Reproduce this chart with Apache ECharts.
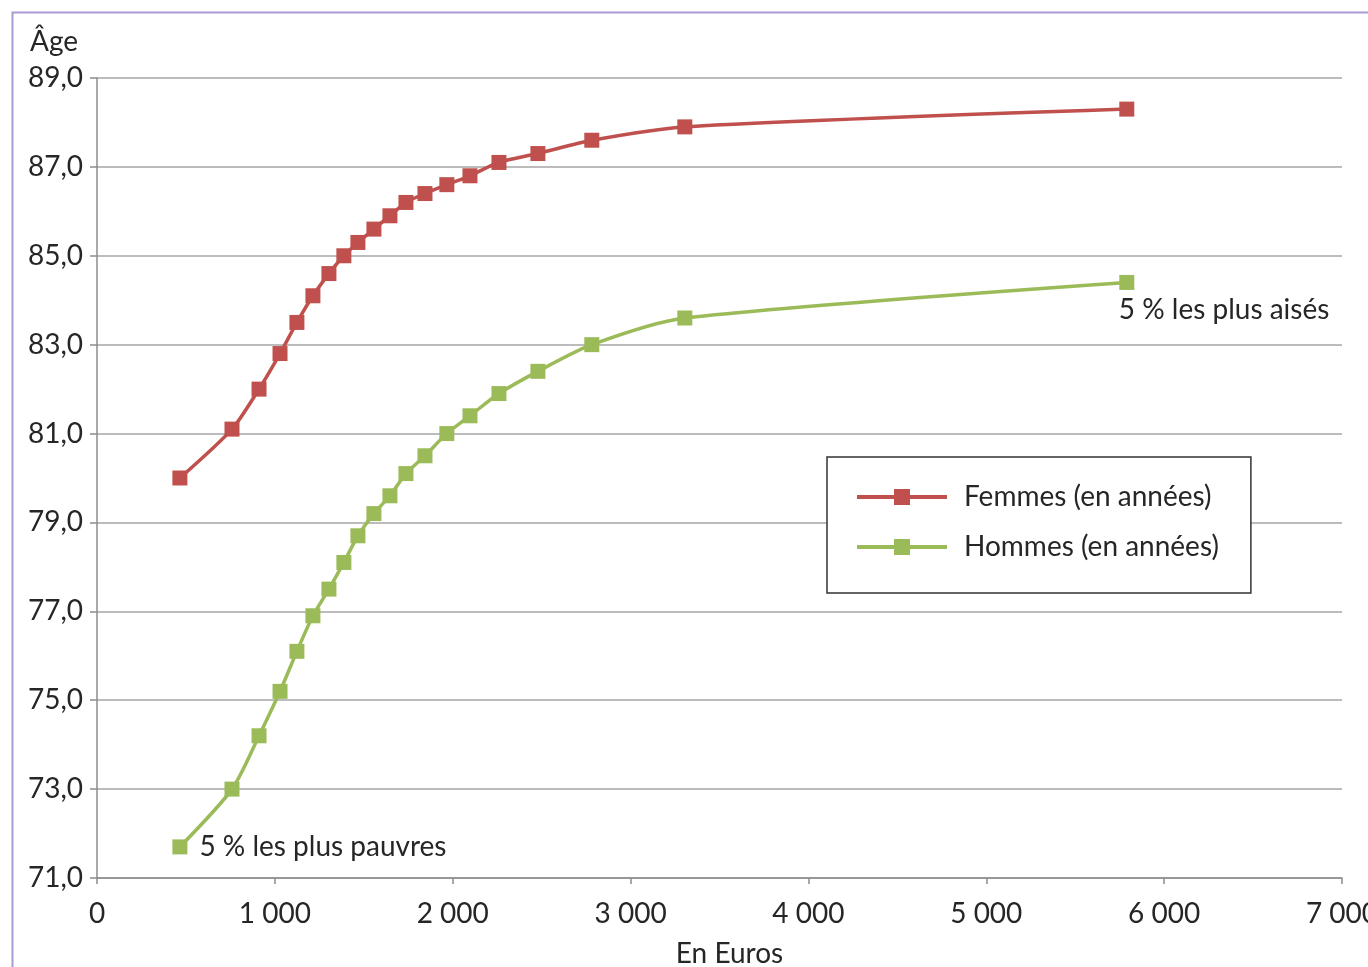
<!DOCTYPE html>
<html>
<head>
<meta charset="utf-8">
<script src="https://cdn.jsdelivr.net/npm/echarts@6/dist/echarts.min.js"></script>
<style>
html,body{margin:0;padding:0;background:#fff;}
#chart{width:1368px;height:967px;}
</style>
</head>
<body>
<div id="chart"></div>
<script>
// Revenu mensuel (euros) par ventile
const revenus = [466, 759, 911, 1029, 1124, 1214, 1304, 1388, 1467, 1557, 1647, 1737, 1844, 1967, 2097, 2260, 2479, 2782, 3305, 5790];
const femmes  = [80.0, 81.1, 82.0, 82.8, 83.5, 84.1, 84.6, 85.0, 85.3, 85.6, 85.9, 86.2, 86.4, 86.6, 86.8, 87.1, 87.3, 87.6, 87.9, 88.3];
const hommes  = [71.7, 73.0, 74.2, 75.2, 76.1, 76.9, 77.5, 78.1, 78.7, 79.2, 79.6, 80.1, 80.5, 81.0, 81.4, 81.9, 82.4, 83.0, 83.6, 84.4];
const seriesNames = ['Femmes (en années)', 'Hommes (en années)'];
const noteBas = '5 % les plus pauvres';
const noteHaut = '5 % les plus aisés';
const axisNames = { x: 'En Euros', y: 'Âge' };

const FONT = 'Lato';
const FS = 28;
const TXT = '#262626';

const fmtThousands = v => String(v).replace(/\B(?=(\d{3})+(?!\d))/g, ' ');
const fmtAge = v => v.toFixed(1).replace('.', ',');

const femmesData = revenus.map((x, i) => [x, femmes[i]]);
const hommesData = revenus.map((x, i) => {
  const item = { value: [x, hommes[i]] };
  if (i === 0) {
    item.label = { show: true, formatter: noteBas, position: 'right', distance: 12,
      fontFamily: FONT, fontSize: FS, color: TXT };
  } else if (i === revenus.length - 1) {
    item.label = { show: true, formatter: noteHaut, position: 'bottom', align: 'left', distance: 6,
      offset: [-8, 0], fontFamily: FONT, fontSize: FS, color: TXT };
  }
  return item;
});

const chart = echarts.init(document.getElementById('chart'), null, { renderer: 'canvas' });
chart.setOption({
  animation: false,
  backgroundColor: '#fff',
  textStyle: { fontFamily: FONT },
  grid: { left: 97, right: 26, top: 78, bottom: 89, containLabel: false, outerBoundsMode: 'none' },
  graphic: [{
    type: 'rect', left: 10, top: 10, silent: true,
    shape: { x: 0, y: 0, width: 1400, height: 1000 },
    style: { fill: 'none', stroke: '#a99ad2', lineWidth: 2 }
  }],
  legend: {
    orient: 'vertical', left: 827, top: 457,
    padding: [24, 32, 30, 28], itemGap: 18,
    itemWidth: 90, itemHeight: 20,
    backgroundColor: '#fff', borderColor: '#333', borderWidth: 1.5, borderRadius: 0,
    lineStyle: { width: 4 },
    textStyle: { fontFamily: FONT, fontSize: FS, color: TXT, lineHeight: 32, padding: [0, 0, 0, 12] },
    data: seriesNames
  },
  xAxis: {
    type: 'value', min: 0, max: 7000, interval: 1000,
    name: axisNames.x, nameLocation: 'middle', nameGap: 62,
    nameTextStyle: { fontFamily: FONT, fontSize: FS, color: TXT, padding: [0, 0, 0, 20] },
    axisLine: { show: true, lineStyle: { color: '#8c8c8c', width: 1.5 } },
    axisTick: { show: true, length: 6, lineStyle: { color: '#8c8c8c', width: 1.5 } },
    axisLabel: { formatter: fmtThousands, fontFamily: FONT, fontSize: FS, color: TXT, margin: 22, hideOverlap: false },
    splitLine: { show: false }
  },
  yAxis: {
    type: 'value', min: 71, max: 89, interval: 2,
    name: axisNames.y, nameLocation: 'end', nameGap: 22,
    nameTextStyle: { fontFamily: FONT, fontSize: FS, color: TXT, align: 'right', padding: [0, 19, 0, 0] },
    axisLine: { show: true, lineStyle: { color: '#8c8c8c', width: 1.5 } },
    axisTick: { show: true, length: 7, lineStyle: { color: '#8c8c8c', width: 1.5 } },
    axisLabel: { formatter: fmtAge, fontFamily: FONT, fontSize: FS, color: TXT, margin: 14 },
    splitLine: { show: true, lineStyle: { color: '#a6a6a6', width: 1.5 } }
  },
  series: [
    {
      name: seriesNames[0], type: 'line', data: femmesData, smooth: 0.25,
      symbol: 'rect', symbolSize: 15,
      lineStyle: { color: '#c0504d', width: 3.5 },
      itemStyle: { color: '#c0504d' },
      z: 3
    },
    {
      name: seriesNames[1], type: 'line', data: hommesData, smooth: 0.25,
      symbol: 'rect', symbolSize: 15,
      lineStyle: { color: '#9bbb59', width: 3.5 },
      itemStyle: { color: '#9bbb59' },
      z: 3
    }
  ]
});
</script>
</body>
</html>
